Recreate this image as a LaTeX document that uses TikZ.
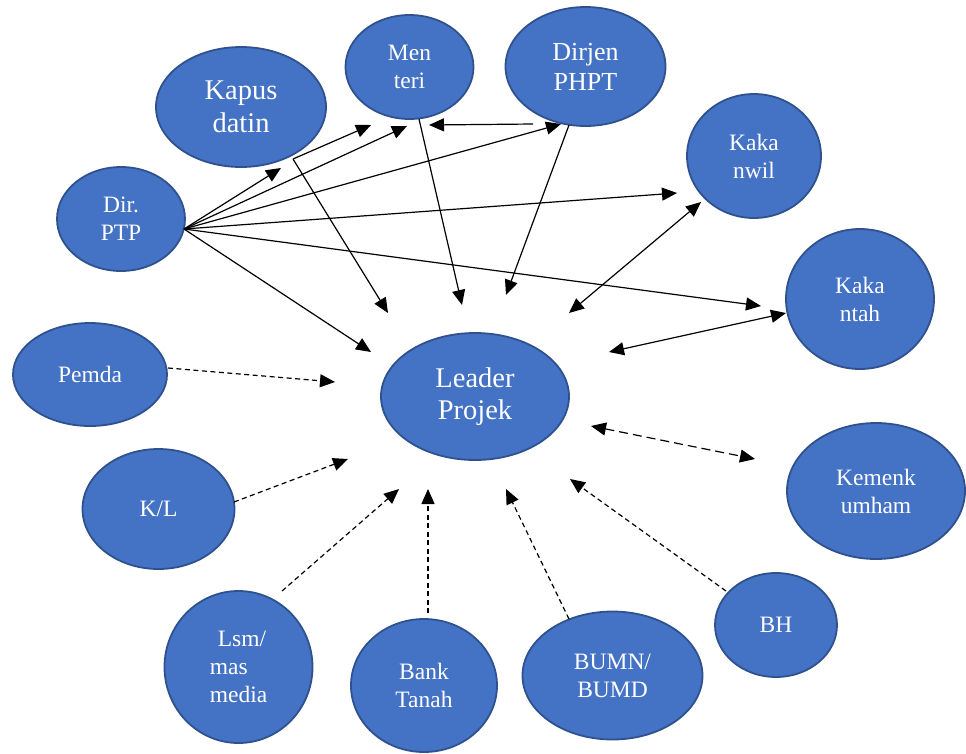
\documentclass[tikz,border=0pt]{standalone}
\usepackage{fontspec}
\setmainfont{Liberation Serif}
\usetikzlibrary{shapes.geometric,arrows.meta}
\definecolor{nodefill}{HTML}{4472C4}
\definecolor{nodeedge}{HTML}{2F528F}
\tikzset{
  bub/.style={ellipse,draw=nodeedge,line width=1.8pt,fill=nodefill,text=white,inner sep=0pt,align=center,font=\fontsize{23.5}{28}\selectfont},
  arr/.style={line width=1.2pt,-{Triangle[length=15pt,width=13pt]}},
  darr/.style={arr,dash pattern=on 5pt off 3.5pt},
  biarr/.style={line width=1.2pt,{Triangle[length=15pt,width=13pt]}-{Triangle[length=15pt,width=13pt]}},
}
\begin{document}
\begin{tikzpicture}[x=1pt,y=-1pt]
\useasboundingbox (0,0) rectangle (966,753);
% nodes
\node[bub,minimum width=170pt,minimum height=120pt,font=\fontsize{28.5}{33}\selectfont] (kapus) at (241,107) {Kapus\\datin};
\node[bub,minimum width=128pt,minimum height=104pt] (menteri) at (409.5,67) {Men\\teri};
\node[bub,minimum width=160pt,minimum height=119pt,font=\fontsize{26}{30}\selectfont] (dirjen) at (585.5,66.5) {Dirjen\\PHPT};
\node[bub,minimum width=134pt,minimum height=124pt] (kakanwil) at (754,156) {Kaka\\nwil};
\node[bub,minimum width=128pt,minimum height=104pt] (ptp) at (121,219) {Dir.\\PTP};
\node[bub,minimum width=148pt,minimum height=140pt] (kakantah) at (860,299) {Kaka\\ntah};
\node[bub,minimum width=154pt,minimum height=103pt] (pemda) at (90,374.5) {Pemda};
\node[bub,minimum width=188pt,minimum height=127pt,font=\fontsize{28.5}{32}\selectfont] (leader) at (475,396.5) {Leader\\Projek};
\node[bub,minimum width=178pt,minimum height=136pt] (kemenk) at (876,491) {Kemenk\\umham};
\node[bub,minimum width=152pt,minimum height=120pt] (kl) at (158.5,509) {K/L};
\node[bub,minimum width=122pt,minimum height=104pt] (bh) at (776,625) {BH};
\node[bub,minimum width=148pt,minimum height=152pt,align=left] (lsm) at (238.5,667) {\hspace{8pt}Lsm/\\mas\\media};
\node[bub,minimum width=146pt,minimum height=133pt] (bank) at (424,685.5) {Bank\\Tanah};
\node[bub,minimum width=180pt,minimum height=128pt] (bumn) at (612.5,675.5) {BUMN/\\BUMD};
% connector end points
\coordinate (p0) at (184,229);
\coordinate (k0) at (293,159);
\coordinate (m0) at (419,119);
\coordinate (d0) at (533,124);
\coordinate (d1) at (569,125);
\coordinate (tKap) at (281,168);
\coordinate (tMen1) at (371,125);
\coordinate (tLd1) at (388,313);
\coordinate (tMen2) at (407,126);
\coordinate (tDir) at (561,124);
\coordinate (tKnw) at (677,193);
\coordinate (tKnt) at (761,306);
\coordinate (tLd2) at (371,352);
\coordinate (tLd3) at (462,305);
\coordinate (tMen3) at (429,125);
\coordinate (tLd4) at (506,295);
\coordinate (a1) at (701,202);
\coordinate (a2) at (569,313);
\coordinate (b1) at (786,313);
\coordinate (b2) at (609,352);
\coordinate (e1) at (168,368);
\coordinate (e2) at (335,382);
\coordinate (f1) at (234,502);
\coordinate (f2) at (348,459);
\coordinate (g1) at (282,591);
\coordinate (g2) at (399,489);
\coordinate (h1) at (428,613);
\coordinate (h2) at (428,489);
\coordinate (i1) at (569,619);
\coordinate (i2) at (506,489);
\coordinate (j1) at (726,591);
\coordinate (j2) at (570,479);
\coordinate (c1) at (591,426);
\coordinate (c2) at (755,459);
% solid arrows
\draw[arr] (p0) -- (tKap);
\draw[arr] (k0) -- (tMen1);
\draw[arr] (k0) -- (tLd1);
\draw[arr] (p0) -- (tMen2);
\draw[arr] (p0) -- (tDir);
\draw[arr] (p0) -- (tKnw);
\draw[arr] (p0) -- (tKnt);
\draw[arr] (p0) -- (tLd2);
\draw[arr] (m0) -- (tLd3);
\draw[arr] (d0) -- (tMen3);
\draw[arr] (d1) -- (tLd4);
\draw[biarr] (a1) -- (a2);
\draw[biarr] (b1) -- (b2);
% dashed arrows
\draw[darr] (e1) -- (e2);
\draw[darr] (f1) -- (f2);
\draw[darr] (g1) -- (g2);
\draw[darr] (h1) -- (h2);
\draw[darr] (i1) -- (i2);
\draw[darr] (j1) -- (j2);
\draw[biarr,dash pattern=on 9pt off 5pt] (c1) -- (c2);
\end{tikzpicture}
\end{document}
